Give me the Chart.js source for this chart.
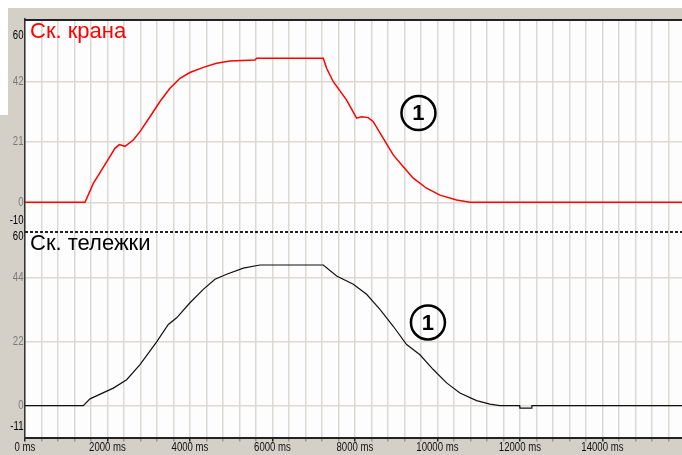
<!DOCTYPE html>
<html>
<head>
<meta charset="utf-8">
<script src="https://cdn.jsdelivr.net/npm/chart.js@4"></script>
<style>
  html, body { margin: 0; padding: 0; }
  body { width: 682px; height: 455px; overflow: hidden; position: relative; background: #d4d0c8; }
  #top-strip { position: absolute; left: 0; top: 0; width: 682px; height: 8px; background: #fff; }
  #left-strip { position: absolute; left: 0; top: 0; width: 8px; height: 115px; background: #fff; }
  canvas { position: absolute; left: 0; }
  #crane-chart { top: 0; }
  #trolley-chart { top: 231px; }
</style>
</head>
<body>
<div id="top-strip"></div>
<div id="left-strip"></div>
<canvas id="crane-chart" width="682" height="231"></canvas>
<canvas id="trolley-chart" width="682" height="224"></canvas>
<script>
// --- DATA ---
const X_MAX = 15930;
const GRID_STEP = 400;
const LABEL_STEP = 2000;

const craneTitle = 'Ск. крана';
const craneTicks = [-10, 0, 21, 42, 60];
const craneTime = [0, 1455, 1657, 1980, 2182, 2287, 2424, 2626, 2788, 3030,
    3273, 3515, 3758, 4000, 4323, 4646, 4970, 5576, 5616, 7232,
    7313, 7475, 7798, 8040, 8162, 8323, 8444, 8687, 8929, 9172,
    9414, 9737, 10061, 10465, 10788, 15930];
const craneSpeed = [0, 0, 6.6, 14.1, 18.8, 20.1, 19.5, 21.7, 24.6, 29.8,
    35.1, 39.7, 43.2, 45.2, 47.0, 48.4, 49.2, 49.6, 50.2, 50.2,
    46.7, 42.0, 35.6, 29.3, 29.8, 29.5, 28.1, 22.3, 16.5, 12.4,
    8.4, 4.9, 2.5, 0.8, 0, 0];
const craneMarker = [9540, 31.1];

const trolleyTitle = 'Ск. тележки';
const trolleyTicks = [-11, 0, 22, 44, 60];
const trolleyTime = [0, 1414, 1576, 2141, 2465, 2788, 3192, 3475, 3677, 4000,
    4323, 4606, 4889, 5293, 5697, 7232, 7556, 7960, 8283, 8606,
    8929, 9253, 9576, 9899, 10222, 10545, 10949, 11273, 11515, 11990,
    12000, 12280, 12290, 15930];
const trolleySpeed = [0, 0, 2.3, 6.0, 8.9, 14.1, 21.9, 27.9, 30.2, 35.4,
    40.0, 43.5, 45.2, 47.3, 48.4, 48.4, 44.6, 41.8, 38.3, 33.1,
    27.3, 21.0, 17.5, 12.4, 7.8, 4.3, 1.7, 0.5, 0, 0,
    -0.9, -0.9, 0, 0];
const trolleyMarker = [9770, 28.6];

// --- STYLE ---
const GRID_COLOR = '#dcd9d3';
const SMALL_FONT = '12px "Liberation Sans", Arial, sans-serif';
const SMALL_SQUEEZE = 0.8;   // axis labels are drawn narrow
const TITLE_FONT = '"Liberation Sans", Arial, sans-serif';

// --- HELPER FUNCTIONS ---
function toPoints(times, values) {
    return times.map((t, i) => ({ x: t, y: values[i] }));
}

function gridTicks() {
    const ticks = [];
    for (let v = 0; v < X_MAX; v += GRID_STEP) ticks.push({ value: v });
    return ticks;
}

function narrowText(ctx, text, x, y) {
    ctx.save();
    ctx.translate(x, y);
    ctx.scale(SMALL_SQUEEZE, 1);
    ctx.fillText(text, 0, 0);
    ctx.restore();
}

// white plot background, border lines, titles, axis labels and the circled marker
const panelPlugin = {
    id: 'panel',
    beforeDraw(chart) {
        const { ctx, chartArea: a } = chart;
        ctx.save();
        ctx.fillStyle = '#fdfdfd';
        ctx.fillRect(a.left, a.top, a.right - a.left, a.bottom - a.top);
        ctx.restore();
    },
    afterDraw(chart, args, opts) {
        const { ctx, chartArea: a, scales } = chart;
        ctx.save();

        // top edge: solid frame line or dashed separator
        ctx.strokeStyle = '#222';
        ctx.lineWidth = 2;
        if (opts.dashedTop) ctx.setLineDash([3, 2]);
        ctx.beginPath();
        ctx.moveTo(a.left, a.top + 1);
        ctx.lineTo(a.right, a.top + 1);
        ctx.stroke();
        ctx.setLineDash([]);

        // y labels: ends pulled inside the panel, inner values in gray
        ctx.font = SMALL_FONT;
        ctx.textAlign = 'right';
        ctx.textBaseline = 'middle';
        opts.ticks.forEach((v, i) => {
            let y = scales.y.getPixelForValue(v);
            const first = i === 0;
            const last = i === opts.ticks.length - 1;
            if (first) y -= 10.5;
            if (last) y += 5.5;
            ctx.fillStyle = (first || last) ? '#000' : '#7a7a7a';
            narrowText(ctx, String(v), a.left - 1.5, y);
        });

        // x labels under the bottom panel
        if (opts.showX) {
            ctx.textAlign = 'center';
            ctx.fillStyle = '#111';
            for (let v = 0; v < X_MAX; v += LABEL_STEP) {
                narrowText(ctx, v + ' ms', scales.x.getPixelForValue(v), a.bottom + 10.5);
            }
        }

        // panel title
        ctx.font = opts.titleFont;
        ctx.textAlign = 'left';
        ctx.textBaseline = 'alphabetic';
        ctx.fillStyle = opts.titleColor;
        ctx.fillText(opts.title, a.left + 5, a.top + opts.titleOffset);

        // circled "1"
        const cx = scales.x.getPixelForValue(opts.marker[0]);
        const cy = scales.y.getPixelForValue(opts.marker[1]);
        ctx.strokeStyle = '#000';
        ctx.lineWidth = 2.5;
        ctx.beginPath();
        ctx.arc(cx, cy, 17, 0, Math.PI * 2);
        ctx.stroke();
        ctx.fillStyle = '#000';
        ctx.font = 'bold 22px ' + TITLE_FONT;
        ctx.textAlign = 'center';
        ctx.textBaseline = 'middle';
        ctx.fillText('1', cx, cy + 1);

        ctx.restore();
    }
};

function buildChart(canvas, cfg) {
    return new Chart(canvas, {
        type: 'line',
        data: {
            datasets: [{
                data: toPoints(cfg.time, cfg.speed),
                borderColor: cfg.lineColor,
                borderWidth: cfg.lineWidth,
                pointRadius: 0,
                tension: 0,
                fill: false
            }]
        },
        options: {
            responsive: false,
            animation: false,
            devicePixelRatio: 1,
            layout: { padding: { top: cfg.padTop, left: 0, right: 0, bottom: 0 } },
            plugins: {
                legend: { display: false },
                tooltip: { enabled: false },
                panel: {
                    title: cfg.title,
                    titleFont: cfg.titleFont,
                    titleColor: cfg.titleColor,
                    titleOffset: cfg.titleOffset,
                    ticks: cfg.ticks,
                    marker: cfg.marker,
                    dashedTop: cfg.dashedTop,
                    showX: cfg.showX
                }
            },
            scales: {
                x: {
                    type: 'linear',
                    min: 0,
                    max: X_MAX,
                    afterBuildTicks: (scale) => { scale.ticks = gridTicks(); },
                    afterFit: (scale) => { scale.height = cfg.xHeight; },
                    grid: {
                        color: GRID_COLOR,
                        lineWidth: 1.5,
                        drawTicks: cfg.showX,
                        tickLength: 4,
                        tickWidth: 1.5,
                        tickColor: (ctx) => ctx.tick && ctx.tick.value % LABEL_STEP === 0 ? '#222' : '#9a968f'
                    },
                    border: { display: cfg.showX, color: '#222', width: 2 },
                    ticks: { display: false }
                },
                y: {
                    min: cfg.yMin,
                    max: cfg.yMax,
                    afterBuildTicks: (scale) => { scale.ticks = cfg.ticks.map(v => ({ value: v })); },
                    afterFit: (scale) => { scale.width = 25; },
                    grid: {
                        color: (ctx) => {
                            const v = ctx.tick ? ctx.tick.value : null;
                            return (v === cfg.ticks[0] || v === cfg.ticks[cfg.ticks.length - 1]) ? 'rgba(0,0,0,0)' : GRID_COLOR;
                        },
                        lineWidth: 1.5,
                        drawTicks: false
                    },
                    border: { display: true, color: '#333', width: 1.5 },
                    ticks: { display: false }
                }
            }
        },
        plugins: [panelPlugin]
    });
}

// --- CHARTS ---
buildChart(document.getElementById('crane-chart'), {
    time: craneTime, speed: craneSpeed, ticks: craneTicks, marker: craneMarker,
    title: craneTitle, titleFont: '22px ' + TITLE_FONT, titleColor: '#ff0000', titleOffset: 19,
    lineColor: '#ff0000', lineWidth: 1.5,
    yMin: -10, yMax: 63.85, padTop: 19, xHeight: 0, showX: false, dashedTop: false
});

buildChart(document.getElementById('trolley-chart'), {
    time: trolleyTime, speed: trolleySpeed, ticks: trolleyTicks, marker: trolleyMarker,
    title: trolleyTitle, titleFont: '22px ' + TITLE_FONT, titleColor: '#000', titleOffset: 18.5,
    lineColor: '#111', lineWidth: 1.2,
    yMin: -11, yMax: 60.1, padTop: 0, xHeight: 17.5, showX: true, dashedTop: true
});
</script>
</body>
</html>
